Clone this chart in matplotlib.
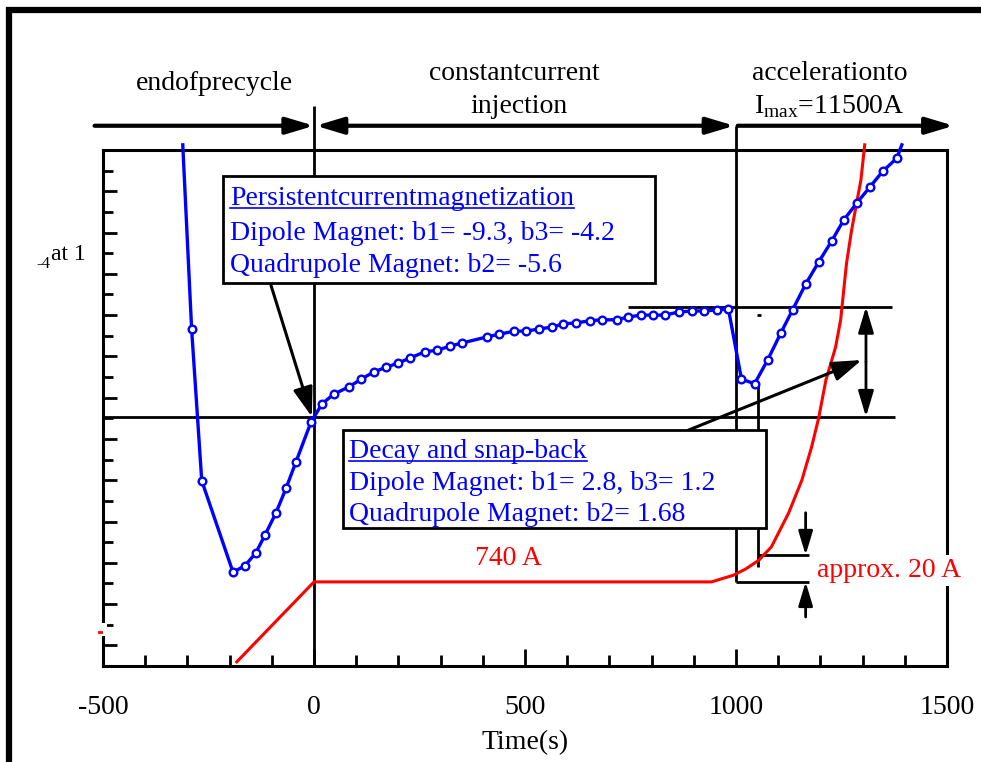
import matplotlib
matplotlib.use('Agg')
import matplotlib.pyplot as plt
from matplotlib.patches import Rectangle
from matplotlib.lines import Line2D
from matplotlib.ticker import MultipleLocator, FixedLocator

plt.rcParams['font.family'] = ['Liberation Serif', 'DejaVu Serif']
plt.rcParams['mathtext.fontset'] = 'custom'
plt.rcParams['mathtext.rm'] = 'Liberation Serif'

# ---------------- data ----------------
blue_t = [-311, -290, -266, -192, -164, -138, -116, -90, -66, -43,
          -7, 19, 47, 83, 112, 142, 171, 199, 228, 263,
          292, 323, 351, 411, 439, 475, 503, 532, 565, 591,
          622, 653, 683, 717, 743, 774, 804, 831, 864, 895,
          923, 954, 982, 1013, 1044, 1075, 1106, 1134, 1165, 1196,
          1227, 1255, 1286, 1317, 1348, 1381, 1393]
blue_v = [101, 65.3, 35.9, 18.2, 19.4, 21.9, 25.4, 29.7, 34.5, 39.5,
          47.3, 50.8, 52.7, 54.1, 55.6, 57.0, 57.9, 58.7, 59.7, 60.9,
          61.2, 62.0, 62.6, 63.8, 64.3, 64.9, 64.9, 65.3, 65.7, 66.3,
          66.5, 66.9, 67.1, 67.1, 67.6, 68.0, 68.0, 68.0, 68.6, 68.8,
          68.8, 69.0, 69.2, 55.6, 54.7, 59.3, 64.5, 69.0, 74.0, 78.3,
          82.4, 86.4, 89.7, 92.8, 95.9, 98.4, 101]

red_t = [-183, 0, 942, 994, 1023, 1054, 1084, 1125, 1156, 1179,
         1196, 1213, 1236, 1248, 1262, 1274, 1296, 1305]
red_v = [0.8, 16.3, 16.3, 17.6, 18.8, 20.5, 23.1, 29.7, 36.0, 42.4,
         48.1, 55.4, 61.8, 67.1, 78.1, 84.5, 94.2, 101]

xticks = [-500, 0, 500, 1000, 1500]
xtick_labels = ['-500', '0', '500', '1000', '1500']
xlabel = 'Time(s)'

phase_labels = ['endofprecycle', 'constantcurrent', 'injection',
                'accelerationto', r'I$_{\rm max}$=11500A']
box1_lines = ['Persistentcurrentmagnetization',
              'Dipole Magnet: b1= -9.3, b3= -4.2',
              'Quadrupole Magnet: b2= -5.6']
box2_lines = ['Decay and snap-back',
              'Dipole Magnet: b1= 2.8, b3= 1.2',
              'Quadrupole Magnet: b2= 1.68']

BLUE = '#0000ff'
RED = '#ff0000'
W, H = 981, 762

fig = plt.figure(figsize=(W / 100, H / 100), dpi=100)
ax = fig.add_axes([103 / W, 1 - 666 / H, (947 - 103) / W, (666 - 150) / H])
ax.set_xlim(-500, 1500)
ax.set_ylim(0, 100)

for s in ax.spines.values():
    s.set_linewidth(2.2)

ax.xaxis.set_major_locator(FixedLocator(xticks))
ax.set_xticklabels(xtick_labels, fontsize=20)
ax.xaxis.set_minor_locator(MultipleLocator(100))
ax.yaxis.set_major_locator(FixedLocator([4 + 8 * i for i in range(13)]))
ax.yaxis.set_minor_locator(MultipleLocator(4))
ax.tick_params(axis='x', which='major', direction='in', length=12, width=2, pad=21)
ax.tick_params(axis='x', which='minor', direction='in', length=8, width=2)
ax.tick_params(axis='y', which='major', direction='in', length=10, width=2, labelleft=False)
ax.tick_params(axis='y', which='minor', direction='in', length=7, width=2)
ax.set_xlabel(xlabel, fontsize=20, labelpad=7)

# curves
ax.plot(red_t, red_v, color=RED, lw=2.2, clip_on=False, zorder=3)
ax.plot(blue_t, blue_v, color=BLUE, lw=2.4, marker='o', markersize=5.5,
        markerfacecolor='white', markeredgecolor=BLUE, markeredgewidth=1.7,
        markevery=slice(1, len(blue_t) - 1), clip_on=False, zorder=4)

K = dict(color='black', clip_on=False, solid_capstyle='butt')


def line(xs, ys, lw=2.0, z=2):
    ax.plot(xs, ys, lw=lw, zorder=z, **K)


def arrow(x0, y0, x1, y1, style='-|>', lw=2.0, hl=0.6, hw=0.18, ms=28, z=3):
    ax.annotate('', xy=(x1, y1), xytext=(x0, y0), xycoords='data',
                arrowprops=dict(arrowstyle=f'{style},head_length={hl},head_width={hw}',
                                lw=lw, color='black', shrinkA=0, shrinkB=0,
                                mutation_scale=ms),
                annotation_clip=False, zorder=z)


# phase arrows above the plot
arrow(-520, 104.7, 0, 104.7, lw=3)
arrow(4, 104.7, 996, 104.7, style='<|-|>', lw=3)
arrow(1004, 104.7, 1516, 104.7, lw=3)
line([0, 0], [108.5, 0], lw=2)
line([1000, 1000], [104.7, 16.3], lw=2)

# horizontal reference lines and double arrow
line([745, 1369], [69.6, 69.6], lw=2)
line([-500, 1376], [48.3, 48.3], lw=2)
arrow(1308, 59, 1308, 69.6, lw=2, ms=26)
arrow(1308, 59, 1308, 48.3, lw=2, ms=26)
line([1049, 1059], [68.0, 68.0], lw=2)

# "approx. 20 A" bracket
line([1051, 1051], [54.8, 19.2], lw=2)
line([1051, 1172], [21.5, 21.5], lw=2)
line([1000, 1172], [16.3, 16.3], lw=2)
arrow(1165, 29.7, 1165, 21.5, lw=2, ms=24)
arrow(1165, 9.5, 1165, 16.3, lw=2, ms=24)

# pointer arrows from boxes
arrow(-102, 73.8, -5, 48.3, lw=2.2, ms=30, hw=0.2)
arrow(887, 45.7, 1298, 59.3, lw=2.2, ms=30, hw=0.2)

# boxes
ax.add_patch(Rectangle((-216, 74.2), 1025, 20.8, facecolor='white',
                       edgecolor='black', lw=2, clip_on=False, zorder=5))
ax.add_patch(Rectangle((69, 26.7), 1001, 19.0, facecolor='white',
                       edgecolor='black', lw=2, clip_on=False, zorder=5))

t1 = [ax.text(-199, yb, s, color=BLUE, fontsize=20, va='baseline', ha='left', zorder=6)
      for yb, s in zip([89.3, 82.6, 76.4], box1_lines)]
t2 = [ax.text(83, yb, s, color=BLUE, fontsize=20, va='baseline', ha='left', zorder=6)
      for yb, s in zip([40.3, 34.1, 28.1], box2_lines)]

# phase labels
ax.text(-237, 111.6, phase_labels[0], fontsize=20, ha='center', va='baseline')
ax.text(475, 113.6, phase_labels[1], fontsize=20, ha='center', va='baseline')
ax.text(486, 107.2, phase_labels[2], fontsize=20, ha='center', va='baseline')
ax.text(1222, 113.6, phase_labels[3], fontsize=20, ha='center', va='baseline')
ax.text(1222, 107.2, phase_labels[4], fontsize=20, ha='center', va='baseline')

# current annotations
ax.text(460, 19.5, '740 A', color=RED, fontsize=20, ha='center', va='baseline')
ax.text(1192, 17.3, 'approx. 20 A', color=RED, fontsize=20, ha='left', va='baseline',
        zorder=7, bbox=dict(facecolor='white', edgecolor='none', pad=2))

# left label fragment
fig.text(51 / W, 1 - 260 / H, 'at 1', fontsize=17, ha='left', va='baseline')
fig.text(36 / W, 1 - 268 / H, '-4', fontsize=12, ha='left', va='baseline')

# small artefact on left spine
fig.add_artist(Rectangle((99 / W, 1 - 636 / H), 8 / W, 13 / H, transform=fig.transFigure,
                         facecolor='white', edgecolor='none', zorder=10))
fig.add_artist(Line2D([99 / W, 101 / W], [1 - 632 / H, 1 - 632 / H], transform=fig.transFigure,
                      color=RED, lw=2, zorder=11))

# underlines for box titles
fig.canvas.draw()
r = fig.canvas.get_renderer()
inv = ax.transData.inverted()
for t in (t1[0], t2[0]):
    bb = t.get_window_extent(r)
    x0, _ = inv.transform((bb.x0, 0))
    x1, _ = inv.transform((bb.x1, 0))
    _, yb = ax.transData.transform((0, t.get_position()[1]))
    _, yu = inv.transform((0, yb - 3))
    ax.plot([x0, x1], [yu, yu], color=BLUE, lw=1.2, clip_on=False, zorder=6)

# outer frame
fig.add_artist(Line2D([9 / W, 9 / W], [0, 1 - 7 / H], transform=fig.transFigure,
                      color='black', lw=4.5, solid_capstyle='butt'))
fig.add_artist(Line2D([6 / W, 1], [1 - 10 / H, 1 - 10 / H], transform=fig.transFigure,
                      color='black', lw=4.5, solid_capstyle='butt'))

fig.savefig('out.png', dpi=100)
